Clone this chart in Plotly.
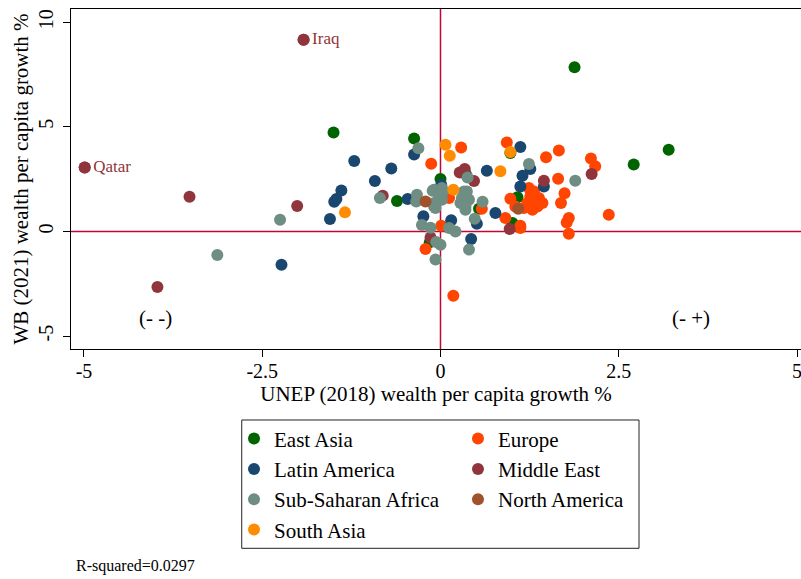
import plotly.graph_objects as go

# ---------------- data ----------------
east_asia_x = [-1.50, -0.61, -0.37, 0.00, -0.15, 1.08, 1.01, 0.54, 1.88, 3.20, 2.71, 0.98]
east_asia_y = [4.73, 1.45, 4.44, 2.51, -0.52, 1.63, 0.40, 1.08, 7.85, 3.90, 3.20, 3.75]

europe_x = [-0.13, -0.21, 0.29, 0.93, 1.48, 1.66, 1.65, 1.74, 1.69, 1.80, 1.77, 1.80,
            1.24, 1.31, 1.26, 1.38, 1.22, 1.33, 1.43, 1.29, 1.36, 1.17, 1.05, 0.98,
            0.91, 1.12, 1.12, 0.58, 0.12, 0.01, 0.18, 2.11, 2.17, 2.36]
europe_y = [3.23, -0.84, 4.01, 4.25, 3.55, 3.87, 2.52, 1.82, 1.36, 0.64, 0.43, -0.11,
            2.07, 1.91, 1.67, 1.60, 1.36, 1.36, 1.36, 1.04, 1.19, 1.12, 1.19, 1.56,
            0.64, 0.27, 0.16, 1.08, 1.60, 0.27, -3.07, 3.49, 3.11, 0.80]

latam_x = [-2.23, -1.21, -1.39, -1.49, -1.46, -1.55, -0.92, -0.69, -0.46, -0.37, -0.24,
           0.01, 0.36, 0.65, 1.12, 1.26, 1.15, 1.12, 1.45, 0.77, 0.51, 0.43, 0.15]
latam_y = [-1.59, 3.36, 1.96, 1.42, 1.55, 0.59, 2.41, 3.01, 1.55, 3.68, 0.72,
           2.23, 2.71, 2.90, 4.03, 2.98, 2.66, 2.15, 2.15, 0.88, 0.37, -0.36, 0.53]

mideast_x = [-4.99, -1.92, -3.52, -3.97, -2.01, -0.81, -0.14, 0.27, 0.34, 0.47, 1.45, 0.97, 2.12]
mideast_y = [3.05, 9.16, 1.66, -2.66, 1.21, 1.71, -0.29, 2.82, 2.98, 2.41, 2.42, 0.11, 2.74]
mideast_labels = ["Qatar", "Iraq", "", "", "", "", "", "", "", "", "", "", ""]

ssa_x = [-3.13, -2.25, -0.85, -0.31, -0.33, -0.34, -0.11, -0.09, -0.26, -0.14, -0.06,
         -0.07, 1.89, 1.24, 0.59, 0.48, 0.40, 0.37, 0.28, 0.35, 0.40, 0.30, 0.35,
         -0.09, 0.02, -0.02, -0.09, 0.02, -0.07, 0.12, 0.21, 0.00, 0.38, 0.04, 0.33]
ssa_y = [-1.13, 0.56, 1.60, 3.98, 1.75, 1.43, 1.94, 1.19, 0.31, 0.18, -0.51,
         -1.34, 2.42, 3.22, 1.42, 0.61, -0.87, 1.91, 1.36, 1.19, 1.51, 1.60, 1.04,
         1.99, 2.07, 1.67, 1.36, 1.51, 1.12, 0.16, 0.00, -0.64, 2.58, 1.91, 1.91]

namerica_x = [-0.21, 1.09]
namerica_y = [1.43, 1.08]

southasia_x = [-1.34, 0.07, 0.13, 0.84, 0.98, 0.18]
southasia_y = [0.91, 4.14, 3.62, 2.88, 3.79, 1.99]

x_ticks = [-5, -2.5, 0, 2.5, 5]
x_tick_text = ["-5", "-2.5", "0", "2.5", "5"]
y_ticks = [-5, 0, 5, 10]
y_tick_text = ["-5", "0", "5", "10"]

quadrant_labels = ["(- -)", "(- +)"]
quadrant_x = [-4.0, 3.52]
quadrant_y = [-4.14, -4.14]

r_squared = 0.0297

# ---------------- styling ----------------
FONT = "Liberation Serif"
C_EA = "#006400"
C_EU = "#FF4500"
C_LA = "#1A476F"
C_ME = "#90353B"
C_SSA = "#6E8E84"
C_NA = "#A0522D"
C_SA = "#FF8C00"
C_REF = "#C10534"
MS = 12

fig = go.Figure()

def add_group(name, xs, ys, color, legend_id):
    fig.add_trace(go.Scatter(
        x=xs, y=ys, mode="markers", name=name,
        legend=legend_id,
        marker=dict(size=MS, color=color, line=dict(width=0)),
    ))

add_group("East Asia", east_asia_x, east_asia_y, C_EA, "legend")
add_group("Europe", europe_x, europe_y, C_EU, "legend2")
add_group("Latin America", latam_x, latam_y, C_LA, "legend")
add_group("Middle East", mideast_x, mideast_y, C_ME, "legend2")
add_group("Sub-Saharan Africa", ssa_x, ssa_y, C_SSA, "legend")
add_group("North America", namerica_x, namerica_y, C_NA, "legend2")
add_group("South Asia", southasia_x, southasia_y, C_SA, "legend")

# country labels (drawn next to the labelled points)
lab_x = [x for x, t in zip(mideast_x, mideast_labels) if t]
lab_y = [y for y, t in zip(mideast_y, mideast_labels) if t]
lab_t = [t for t in mideast_labels if t]
fig.add_trace(go.Scatter(
    x=lab_x, y=lab_y, text=lab_t, mode="markers+text", textposition="middle right",
    marker=dict(size=MS, color=C_ME, line=dict(width=0)),
    textfont=dict(family=FONT, size=17, color=C_ME), showlegend=False,
    hoverinfo="skip",
))

# quadrant text
for t, qx, qy in zip(quadrant_labels, quadrant_x, quadrant_y):
    fig.add_annotation(x=qx, y=qy, text=t, showarrow=False,
                       font=dict(family=FONT, size=21, color="black"))

fig.add_annotation(xref="paper", yref="paper", x=0.004, y=-0.638,
                   xanchor="left", yanchor="middle", showarrow=False,
                   text=f"R-squared={r_squared}",
                   font=dict(family=FONT, size=16, color="black"))

# reference lines at zero
fig.add_hline(y=0, line=dict(color=C_REF, width=1.5), layer="below")
fig.add_vline(x=0, line=dict(color=C_REF, width=1.5), layer="below")

# frame around the two-column legend
fig.add_shape(type="rect", xref="paper", yref="paper",
              x0=0.2339, x1=0.7781, y0=-0.5862, y1=-0.2088,
              line=dict(color="#222222", width=1), fillcolor="rgba(0,0,0,0)",
              layer="above")

legend_common = dict(
    orientation="v", yanchor="top", y=-0.2043, xanchor="left",
    bgcolor="rgba(0,0,0,0)", borderwidth=0,
    font=dict(family=FONT, size=21, color="black"),
    tracegroupgap=0,
)

fig.update_layout(
    width=801, height=579, autosize=False,
    margin=dict(l=71, r=0, t=9, b=230, autoexpand=False),
    paper_bgcolor="white", plot_bgcolor="white",
    font=dict(family=FONT, color="black"),
    showlegend=True,
    legend=dict(x=0.2233, **legend_common),
    legend2=dict(x=0.5301, **legend_common),
    xaxis=dict(
        range=[-5.182, 5.056], tickvals=x_ticks, ticktext=x_tick_text,
        showgrid=False, zeroline=False, automargin=False,
        showline=True, linecolor="black", linewidth=1.3, mirror=True,
        ticks="outside", ticklen=7, tickcolor="black", tickwidth=1.3,
        ticklabelstandoff=-3, ticklabeloverflow="allow",
        tickfont=dict(family=FONT, size=20),
        title=dict(text="UNEP (2018) wealth per capita growth %",
                   font=dict(family=FONT, size=21), standoff=0),
    ),
    yaxis=dict(
        range=[-5.62, 10.63], tickvals=y_ticks, ticktext=y_tick_text,
        showgrid=False, zeroline=False, automargin=False,
        showline=True, linecolor="black", linewidth=1.3, mirror=False,
        ticks="outside", ticklen=7, tickcolor="black", tickwidth=1.3,
        tickangle=-90, ticklabelstandoff=2, ticklabeloverflow="allow",
        tickfont=dict(family=FONT, size=20),
        title=dict(text="WB (2021) wealth per capita growth %",
                   font=dict(family=FONT, size=21), standoff=0),
    ),
)

fig.write_html("out.html",
               config={"displayModeBar": False},
               post_script="document.body.style.margin='0px';"
                           "document.documentElement.style.overflow='hidden';")
